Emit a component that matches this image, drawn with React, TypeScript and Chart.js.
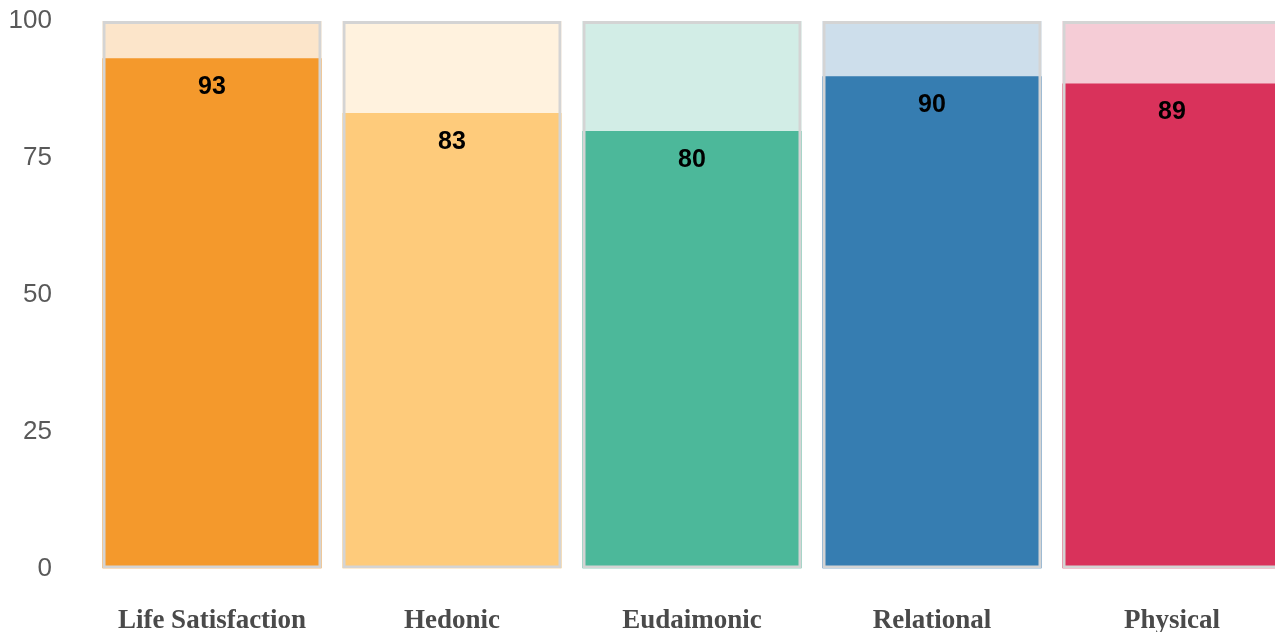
import React, { useEffect, useRef } from "react";
import { Chart, registerables } from "chart.js";

Chart.register(...registerables);

const categories = ["Life Satisfaction", "Hedonic", "Eudaimonic", "Relational", "Physical"];
const scores = [93.2, 83.2, 79.9, 89.9, 88.6];
const maxScores = [100, 100, 100, 100, 100];
const barColors = ["#F4992C", "#FECB7B", "#4CB89A", "#367DB1", "#D9325B"];
const bgColors = [
  "rgba(244,153,44,0.25)",
  "rgba(254,203,123,0.25)",
  "rgba(76,184,154,0.25)",
  "rgba(54,125,177,0.25)",
  "rgba(217,50,91,0.25)",
];
const yTicks = [0, 25, 50, 75, 100];

const valueLabelPlugin = {
  id: "valueLabels",
  afterDatasetsDraw(chart: any) {
    const ctx = chart.ctx;
    const meta = chart.getDatasetMeta(1);
    ctx.save();
    ctx.font = "bold 25px 'Liberation Sans', Arial, sans-serif";
    ctx.fillStyle = "#000000";
    ctx.textAlign = "center";
    ctx.textBaseline = "middle";
    meta.data.forEach((bar: any, i: number) => {
      ctx.fillText(String(Math.round(scores[i])), bar.x, bar.y + 29);
    });
    ctx.restore();
  },
};

export default function App() {
  const canvasRef = useRef<HTMLCanvasElement | null>(null);

  useEffect(() => {
    if (!canvasRef.current) return;
    const chart = new Chart(canvasRef.current, {
      type: "bar",
      data: {
        labels: categories,
        datasets: [
          {
            label: "background",
            data: maxScores,
            backgroundColor: bgColors,
            borderWidth: 0,
            grouped: false,
            barPercentage: 0.9125,
            categoryPercentage: 1,
            order: 2,
          },
          {
            label: "score",
            data: scores,
            backgroundColor: barColors,
            borderWidth: 0,
            grouped: false,
            barPercentage: 0.9125,
            categoryPercentage: 1,
            order: 1,
          },
          {
            label: "frame",
            data: maxScores,
            backgroundColor: "rgba(0,0,0,0)",
            borderColor: "#D4D4D4",
            borderWidth: 3,
            borderSkipped: false,
            grouped: false,
            barPercentage: 0.9125,
            categoryPercentage: 1,
            order: 0,
          },
        ] as any,
      },
      options: {
        animation: false,
        responsive: false,
        devicePixelRatio: 1,
        layout: { padding: { left: 9, right: 8, top: 21, bottom: 0 } },
        plugins: {
          legend: { display: false },
          tooltip: { enabled: false },
        },
        scales: {
          x: {
            grid: { display: false, drawTicks: false },
            border: { display: false },
            afterFit: (axis: any) => {
              axis.paddingLeft = 0;
              axis.paddingRight = 0;
              axis.height = 68.4;
            },
            ticks: {
              padding: 36,
              color: "#4a4a4a",
              font: { family: "'Liberation Serif', 'Times New Roman', serif", size: 27, weight: "bold" },
            },
          },
          y: {
            min: 0,
            max: 100,
            afterBuildTicks: (axis: any) => {
              axis.ticks = yTicks.map((v) => ({ value: v }));
            },
            afterFit: (axis: any) => {
              axis.paddingTop = 0;
              axis.paddingBottom = 0;
              axis.width = 83;
            },
            grid: { display: false, drawTicks: false },
            border: { display: false },
            ticks: {
              padding: 40,
              color: "#595959",
              font: { family: "'Liberation Sans', Arial, sans-serif", size: 26 },
            },
          },
        },
      },
      plugins: [valueLabelPlugin],
    });
    return () => chart.destroy();
  }, []);

  return (
    <div
      style={{
        position: "fixed",
        left: 0,
        top: 0,
        width: 1275,
        height: 632,
        overflow: "hidden",
        background: "#ffffff",
      }}
    >
      <canvas ref={canvasRef} width={1300} height={637} style={{ display: "block" }} />
    </div>
  );
}
